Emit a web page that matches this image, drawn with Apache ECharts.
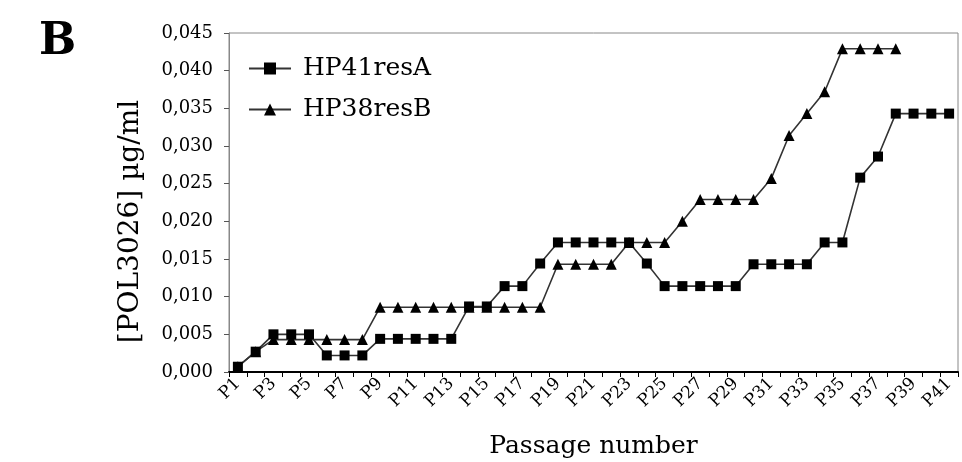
<!DOCTYPE html>
<html>
<head>
<meta charset="utf-8">
<script src="https://cdn.jsdelivr.net/npm/echarts@6/dist/echarts.min.js"></script>
<style>
html,body{margin:0;padding:0;background:#fff;}
#chart{width:962px;height:462px;}
</style>
</head>
<body>
<div id="chart"></div>
<script>
var categories = ['P1','P2','P3','P4','P5','P6','P7','P8','P9','P10','P11','P12','P13','P14','P15','P16','P17','P18','P19','P20','P21','P22','P23','P24','P25','P26','P27','P28','P29','P30','P31','P32','P33','P34','P35','P36','P37','P38','P39','P40','P41'];

var hp41resA = [0.0007,0.0027,0.0050,0.0050,0.0050,0.0022,0.0022,0.0022,0.0044,0.0044,
                0.0044,0.0044,0.0044,0.0087,0.0087,0.0114,0.0114,0.0144,0.0172,0.0172,
                0.0172,0.0172,0.0172,0.0144,0.0114,0.0114,0.0114,0.0114,0.0114,0.0143,
                0.0143,0.0143,0.0143,0.0172,0.0172,0.0258,0.0286,0.0343,0.0343,0.0343,0.0343];

var hp38resB = [0.0007,0.0027,0.0043,0.0043,0.0043,0.0043,0.0043,0.0043,0.0086,0.0086,
                0.0086,0.0086,0.0086,0.0086,0.0086,0.0086,0.0086,0.0086,0.0143,0.0143,
                0.0143,0.0143,0.0172,0.0172,0.0172,0.0200,0.0229,0.0229,0.0229,0.0229,
                0.0257,0.0314,0.0343,0.0372,0.0429,0.0429,0.0429,0.0429,null,null,null];

var seriesNames = ['HP41resA','HP38resB'];
var yMin = 0, yMax = 0.045, yStep = 0.005;

var serif = 'DejaVu Serif';
var chart = echarts.init(document.getElementById('chart'));
chart.setOption({
  animation: false,
  backgroundColor: '#fff',
  title: {
    text: 'B', left: 34, top: 16,
    textStyle: {fontFamily: serif, fontSize: 44, fontWeight: 'bold', color: '#000'}
  },
  legend: {
    orient: 'vertical', left: 243, top: 51, itemGap: 16,
    itemWidth: 42, itemHeight: 15,
    textStyle: {fontFamily: serif, fontSize: 25, color: '#000', padding: [0, 0, 0, 7]},
    data: seriesNames
  },
  grid: {left: 229, right: 4, top: 33, bottom: 90, show: true, borderColor: '#888', borderWidth: 1,
         containLabel: false, outerBoundsMode: 'none'},
  xAxis: {
    type: 'category', data: categories, boundaryGap: true,
    axisLine: {lineStyle: {color: '#000', width: 2}},
    axisTick: {show: true, interval: 0, length: 5, lineStyle: {color: '#000', width: 1}},
    axisLabel: {interval: 1, rotate: 45, fontFamily: serif, fontSize: 17, color: '#000', margin: 9},
    name: 'Passage number', nameLocation: 'middle', nameGap: 62,
    nameTextStyle: {fontFamily: serif, fontSize: 25, color: '#000'}
  },
  yAxis: {
    type: 'value', min: yMin, max: yMax, interval: yStep,
    axisLine: {show: true, lineStyle: {color: '#888', width: 1}},
    axisTick: {show: true, length: 5, lineStyle: {color: '#555'}},
    splitLine: {show: false},
    axisLabel: {fontFamily: serif, fontSize: 18, color: '#000', margin: 16,
      formatter: function (v) { return v.toFixed(3).replace('.', ','); }},
    name: '[POL3026] µg/ml', nameLocation: 'middle', nameGap: 84, nameRotate: 90,
    nameTextStyle: {fontFamily: serif, fontSize: 28, color: '#000', padding: [0, 38, 0, 0]}
  },
  series: [
    {name: seriesNames[0], type: 'line', data: hp41resA, symbol: 'rect', symbolSize: 10,
     itemStyle: {color: '#000'}, lineStyle: {color: '#333', width: 1.6}},
    {name: seriesNames[1], type: 'line', data: hp38resB, symbol: 'triangle', symbolSize: 11,
     itemStyle: {color: '#000'}, lineStyle: {color: '#333', width: 1.6}}
  ]
});
</script>
</body>
</html>
